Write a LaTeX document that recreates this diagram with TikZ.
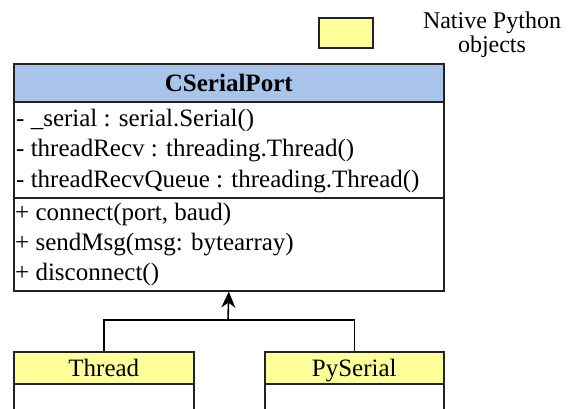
\documentclass[tikz,border=0pt]{standalone}
\usepackage{fontspec}
\setmainfont{Liberation Serif}
\usetikzlibrary{arrows.meta}
\definecolor{hdrblue}{HTML}{A9C4EB}
\definecolor{pyyellow}{HTML}{FFFF99}
\definecolor{edgegray}{HTML}{222222}
\begin{document}
\begin{tikzpicture}[x=1pt,y=-1pt,
  font=\fontsize{25}{30}\selectfont,
  compart/.style={draw=edgegray,line width=1.6pt,inner sep=0pt,anchor=north west},
  member/.style={anchor=base west,inner sep=0pt},
  link/.style={draw=black,line width=1.6pt}]
\useasboundingbox (0,0) rectangle (568,409);
\clip (0,0) rectangle (568,409);

% legend
\node[compart,fill=pyyellow,minimum width=54pt,minimum height=30pt] (legbox) at (318,17) {};
\node[inner sep=0pt,align=center,font=\fontsize{24}{24}\selectfont] (legtxt) at (492,35) {Native Python\\objects};

% CSerialPort class
\node[compart,fill=hdrblue,minimum width=430pt,minimum height=38pt] (hdr) at (13,63) {\textbf{CSerialPort}};
\node[compart,fill=white,minimum width=430pt,minimum height=96pt] (attrs) at (13,101) {};
\node[compart,fill=white,minimum width=430pt,minimum height=93pt] (meths) at (13,197) {};

\node[member] (a1) at (16,127) {- \_serial : serial.Serial()};
\node[member] (a2) at (16,157) {- threadRecv : threading.Thread()};
\node[member] (a3) at (16,188) {- threadRecvQueue : threading.Thread()};
\node[member] (m1) at (15,221) {+ connect(port, baud)};
\node[member] (m2) at (15,251) {+ sendMsg(msg: bytearray)};
\node[member] (m3) at (15,280) {+ disconnect()};

% base classes
\tikzset{basehdr/.style={compart,fill=pyyellow,minimum height=32pt,text height=17pt,text depth=0pt}}
\node[basehdr,minimum width=180pt] (thr) at (13,351) {Thread};
\node[compart,fill=white,minimum width=180pt,minimum height=60pt] (thrbody) at (13,383) {};
\node[basehdr,minimum width=179pt] (pys) at (264,351) {PySerial};
\node[compart,fill=white,minimum width=179pt,minimum height=60pt] (pysbody) at (264,383) {};

% inheritance connector
\coordinate (join) at (228,320);
\draw[link] (thr.north) |- (join) -| (pys.north);
\draw[link,-{Stealth[length=16pt,width=14pt,inset=5pt]}] (join) -- (meths.south);
\end{tikzpicture}
\end{document}
